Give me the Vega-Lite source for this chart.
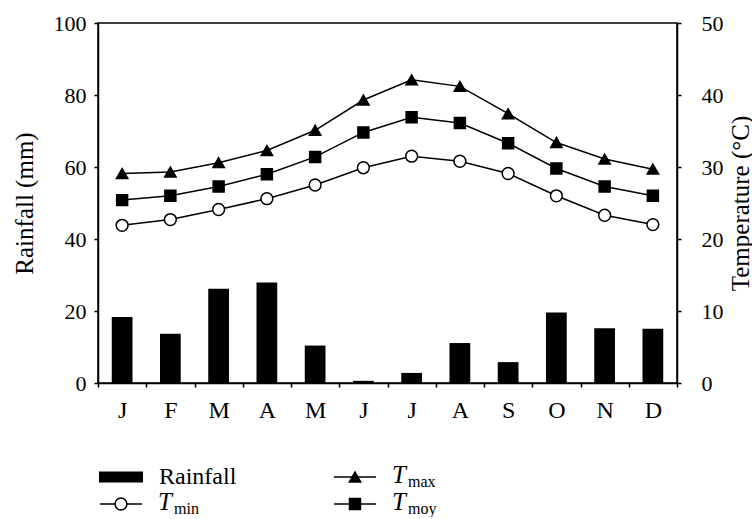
{
  "$schema": "https://vega.github.io/schema/vega-lite/v6.json",
  "padding": {"left": 11, "right": 0, "top": 11, "bottom": 0},
  "background": "white",
  "config": {
    "font": "Liberation Serif, Times New Roman, serif",
    "text": {"font": "Liberation Serif, Times New Roman, serif"},
    "view": {"stroke": "black", "strokeWidth": 1.5},
    "axis": {
      "grid": false,
      "domainColor": "black",
      "domainWidth": 1.5,
      "tickColor": "black",
      "tickWidth": 1.5,
      "tickSize": 4,
      "labelColor": "black",
      "labelFont": "Liberation Serif, Times New Roman, serif",
      "titleFont": "Liberation Serif, Times New Roman, serif",
      "labelFontSize": 22,
      "titleFontSize": 25,
      "titleFontWeight": "normal",
      "titleColor": "black"
    }
  },
  "datasets": {
    "rain": [
      {"mon": "Jan", "rain": 18.3},
      {"mon": "Feb", "rain": 13.7},
      {"mon": "Mar", "rain": 26.2},
      {"mon": "Apr", "rain": 27.9},
      {"mon": "May", "rain": 10.4},
      {"mon": "Jun", "rain": 0.6},
      {"mon": "Jul", "rain": 2.8},
      {"mon": "Aug", "rain": 11.1},
      {"mon": "Sep", "rain": 5.8},
      {"mon": "Oct", "rain": 19.6},
      {"mon": "Nov", "rain": 15.2},
      {"mon": "Dec", "rain": 15.1}
    ],
    "temp": [
      {"mon": "Jan", "series": "Tmax", "temp": 29.1},
      {"mon": "Feb", "series": "Tmax", "temp": 29.3},
      {"mon": "Mar", "series": "Tmax", "temp": 30.6},
      {"mon": "Apr", "series": "Tmax", "temp": 32.3},
      {"mon": "May", "series": "Tmax", "temp": 35.1},
      {"mon": "Jun", "series": "Tmax", "temp": 39.3},
      {"mon": "Jul", "series": "Tmax", "temp": 42.1},
      {"mon": "Aug", "series": "Tmax", "temp": 41.2},
      {"mon": "Sep", "series": "Tmax", "temp": 37.4},
      {"mon": "Oct", "series": "Tmax", "temp": 33.4},
      {"mon": "Nov", "series": "Tmax", "temp": 31.1},
      {"mon": "Dec", "series": "Tmax", "temp": 29.7},
      {"mon": "Jan", "series": "Tmoy", "temp": 25.4},
      {"mon": "Feb", "series": "Tmoy", "temp": 26.0},
      {"mon": "Mar", "series": "Tmoy", "temp": 27.3},
      {"mon": "Apr", "series": "Tmoy", "temp": 29.0},
      {"mon": "May", "series": "Tmoy", "temp": 31.4},
      {"mon": "Jun", "series": "Tmoy", "temp": 34.8},
      {"mon": "Jul", "series": "Tmoy", "temp": 36.9},
      {"mon": "Aug", "series": "Tmoy", "temp": 36.1},
      {"mon": "Sep", "series": "Tmoy", "temp": 33.3},
      {"mon": "Oct", "series": "Tmoy", "temp": 29.8},
      {"mon": "Nov", "series": "Tmoy", "temp": 27.3},
      {"mon": "Dec", "series": "Tmoy", "temp": 26.0},
      {"mon": "Jan", "series": "Tmin", "temp": 21.9},
      {"mon": "Feb", "series": "Tmin", "temp": 22.7},
      {"mon": "Mar", "series": "Tmin", "temp": 24.1},
      {"mon": "Apr", "series": "Tmin", "temp": 25.6},
      {"mon": "May", "series": "Tmin", "temp": 27.5},
      {"mon": "Jun", "series": "Tmin", "temp": 29.9},
      {"mon": "Jul", "series": "Tmin", "temp": 31.5},
      {"mon": "Aug", "series": "Tmin", "temp": 30.8},
      {"mon": "Sep", "series": "Tmin", "temp": 29.1},
      {"mon": "Oct", "series": "Tmin", "temp": 26.0},
      {"mon": "Nov", "series": "Tmin", "temp": 23.3},
      {"mon": "Dec", "series": "Tmin", "temp": 22.0}
    ],
    "legend": [
      {"series": "Rainfall", "col": 0, "row": 0, "main": "Rainfall", "sub": ""},
      {"series": "Tmin", "col": 0, "row": 1, "main": "T", "sub": "min"},
      {"series": "Tmax", "col": 1, "row": 0, "main": "T", "sub": "max"},
      {"series": "Tmoy", "col": 1, "row": 1, "main": "T", "sub": "moy"}
    ]
  },
  "vconcat": [
    {
      "width": 579,
      "height": 360,
      "layer": [
        {
          "data": {"name": "rain"},
          "mark": {"type": "bar", "color": "black", "width": {"band": 0.43}},
          "encoding": {
            "x": {
              "field": "mon", "type": "ordinal", "sort": null,
              "scale": {"paddingInner": 0, "paddingOuter": 0},
              "axis": {"title": null, "labelAngle": 0, "tickBand": "extent", "labelPadding": 11, "labelFontSize": 24, "labelExpr": "substring(datum.label, 0, 1)"}
            },
            "y": {
              "field": "rain", "type": "quantitative",
              "scale": {"domain": [0, 100]},
              "axis": {"title": "Rainfall (mm)", "values": [0, 20, 40, 60, 80, 100], "labelPadding": 8, "titlePadding": 16}
            }
          }
        },
        {
          "data": {"name": "temp"},
          "encoding": {
            "x": {"field": "mon", "type": "ordinal", "sort": null},
            "y": {
              "field": "temp", "type": "quantitative",
              "scale": {"domain": [0, 50]},
              "axis": {"orient": "right", "title": "Temperature (°C)", "values": [0, 10, 20, 30, 40, 50], "labelPadding": 20, "titleAngle": 270, "titleBaseline": "top", "titlePadding": 5}
            }
          },
          "layer": [
            {
              "mark": {"type": "line", "color": "black", "strokeWidth": 1.5},
              "encoding": {"detail": {"field": "series"}}
            },
            {
              "mark": {"type": "point", "filled": true, "stroke": "black", "strokeWidth": 1.5, "opacity": 1},
              "encoding": {
                "shape": {"field": "series", "scale": {"domain": ["Tmin", "Tmax", "Tmoy"], "range": ["circle", "triangle-up", "square"]}, "legend": null},
                "fill": {"field": "series", "scale": {"domain": ["Tmin", "Tmax", "Tmoy"], "range": ["white", "black", "black"]}, "legend": null},
                "size": {"field": "series", "scale": {"domain": ["Tmin", "Tmax", "Tmoy"], "range": [140, 120, 80]}, "legend": null}
              }
            }
          ]
        }
      ],
      "resolve": {"scale": {"y": "independent"}}
    },
    {
      "width": 600,
      "height": 60,
      "view": {"stroke": null},
      "data": {"name": "legend"},
      "encoding": {
        "x": {"field": "col", "type": "quantitative", "scale": {"domain": [0, 1], "range": [23, 257]}, "axis": null},
        "y": {"field": "row", "type": "quantitative", "scale": {"domain": [0, 1], "range": [34, 61]}, "axis": null}
      },
      "layer": [
        {
          "transform": [{"filter": "datum.series == 'Rainfall'"}],
          "mark": {"type": "tick", "orient": "horizontal", "size": 44, "thickness": 11, "color": "black", "opacity": 1}
        },
        {
          "transform": [{"filter": "datum.series != 'Rainfall'"}],
          "mark": {"type": "tick", "orient": "horizontal", "size": 42, "thickness": 1.5, "color": "black", "opacity": 1}
        },
        {
          "transform": [{"filter": "datum.series != 'Rainfall'"}],
          "mark": {"type": "point", "filled": true, "stroke": "black", "strokeWidth": 1.5, "opacity": 1},
          "encoding": {
            "shape": {"field": "series", "scale": {"domain": ["Tmin", "Tmax", "Tmoy"], "range": ["circle", "triangle-up", "square"]}, "legend": null},
            "fill": {"field": "series", "scale": {"domain": ["Tmin", "Tmax", "Tmoy"], "range": ["white", "black", "black"]}, "legend": null},
            "size": {"field": "series", "scale": {"domain": ["Tmin", "Tmax", "Tmoy"], "range": [120, 110, 60]}, "legend": null}
          }
        },
        {
          "transform": [{"filter": "datum.series == 'Rainfall'"}],
          "mark": {"type": "text", "align": "left", "baseline": "alphabetic", "dx": 38, "dy": 7, "font": "Liberation Serif, Times New Roman, serif", "fontSize": 24, "color": "black"},
          "encoding": {"text": {"field": "main"}}
        },
        {
          "transform": [{"filter": "datum.series != 'Rainfall'"}],
          "mark": {"type": "text", "align": "left", "baseline": "alphabetic", "dx": 37, "dy": 6, "font": "Liberation Serif, Times New Roman, serif", "fontSize": 25, "fontStyle": "italic", "color": "black"},
          "encoding": {"text": {"field": "main"}}
        },
        {
          "transform": [{"filter": "datum.series != 'Rainfall'"}],
          "mark": {"type": "text", "align": "left", "baseline": "alphabetic", "dx": 53, "dy": 10, "font": "Liberation Serif, Times New Roman, serif", "fontSize": 16, "color": "black"},
          "encoding": {"text": {"field": "sub"}}
        }
      ]
    }
  ]
}
